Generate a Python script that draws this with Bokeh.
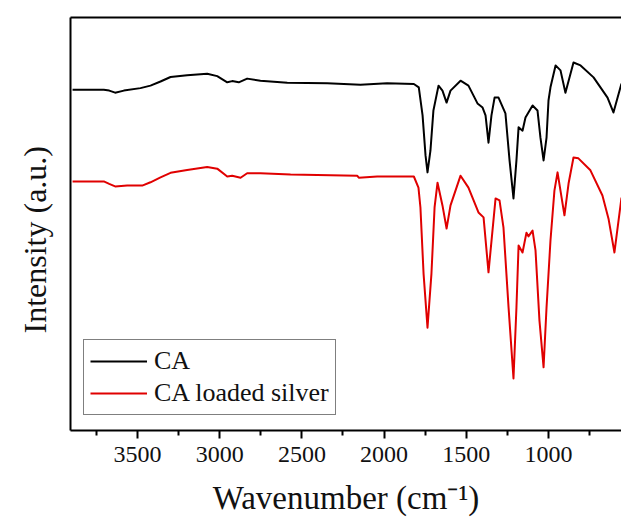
from bokeh.plotting import figure
from bokeh.models import Range1d, FixedTicker, Legend, LegendItem, LinearAxis, Title
from bokeh.embed import file_html
from bokeh.resources import INLINE

# ---- data ----
ca_wn = [3895, 3705, 3672, 3636, 3583, 3482, 3421, 3360, 3299, 3198, 3076, 3015, 2954, 2924,
         2884, 2833, 2752, 2589, 2346, 2144, 1982, 1819, 1789,
         1766, 1748, 1736, 1718, 1700, 1669, 1645, 1620, 1596, 1535, 1487, 1432, 1401, 1383,
         1365, 1347, 1328, 1304, 1262, 1237, 1213, 1195, 1182, 1158, 1140, 1097, 1067, 1049,
         1030, 1012, 1000, 988, 957, 927, 897, 848, 805, 726, 641, 605, 556]
ca_int = [82.5, 82.5, 82.3, 81.8, 82.3, 82.9, 83.5, 84.5, 85.6, 86.0, 86.4, 85.8, 84.3, 84.6,
          84.3, 85.2, 84.7, 84.2, 84.1, 83.7, 84.1, 83.9, 83.1,
          76.3, 66.6, 62.5, 67.8, 77.5, 83.5, 82.3, 79.4, 82.3, 84.7, 83.5, 79.2, 78.2, 76.3,
          69.7, 76.3, 80.6, 80.6, 76.8, 65.4, 56.2, 65.4, 73.4, 72.6, 75.8, 78.7, 77.5, 70.9,
          65.4, 70.9, 79.9, 83.1, 88.4, 87.2, 81.8, 89.1, 88.4, 85.5, 80.6, 77.0, 84.0]

ag_wn = [3895, 3705, 3672, 3636, 3563, 3471, 3421, 3360, 3299, 3198, 3076, 3015, 2954, 2924,
         2873, 2833, 2752, 2569, 2164, 2154, 2042, 1819,
         1791, 1779, 1760, 1736, 1712, 1693, 1675, 1645, 1620, 1596, 1535, 1487, 1426, 1395,
         1365, 1322, 1298, 1274, 1243, 1213, 1195, 1182, 1158, 1134, 1122, 1097, 1079, 1055,
         1030, 1012, 988, 964, 945, 903, 878, 848, 818, 745, 672, 635, 599, 556]
ag_int = [60.3, 60.3, 59.7, 59.1, 59.3, 59.3, 60.1, 61.3, 62.4, 63.1, 63.8, 63.4, 61.5, 61.7,
          61.2, 62.3, 62.3, 62.0, 61.7, 61.2, 61.5, 61.5,
          58.8, 54.0, 38.0, 24.9, 38.0, 54.0, 60.0, 54.5, 48.9, 54.5, 61.7, 58.8, 52.8, 51.6,
          38.3, 56.2, 55.7, 49.2, 29.8, 12.6, 29.8, 44.8, 43.1, 47.9, 47.0, 48.4, 43.6, 26.6,
          15.3, 29.8, 46.0, 58.1, 62.5, 52.1, 59.8, 66.1, 65.9, 63.0, 56.9, 51.3, 43.1, 56.4]

series_names = ["CA", "CA loaded silver"]
x_major = [3500, 3000, 2500, 2000, 1500, 1000]
x_minor = [3750, 3250, 2750, 2250, 1750, 1250, 750]
y_title = "Intensity (a.u.)"
x_title = "Wavenumber (cm\u207b\u00b9)"

FONT = "Liberation Serif"
TXT = "#111111"

p = figure(width=621, height=522, output_backend="svg", toolbar_location=None,
           x_range=Range1d(3907.5, 556), y_range=Range1d(0, 100),
           min_border_left=70, min_border_right=0, min_border_top=17, min_border_bottom=92)
p.background_fill_color = "white"
p.border_fill_color = "white"
p.outline_line_color = None
p.xgrid.visible = False
p.ygrid.visible = False

r1 = p.line(ca_wn, ca_int, line_color="black", line_width=2, line_join="round")
r2 = p.line(ag_wn, ag_int, line_color="#e00000", line_width=2, line_join="round")

xa = p.xaxis[0]
xa.ticker = FixedTicker(ticks=x_major, minor_ticks=x_minor)
xa.axis_line_width = 2
xa.major_tick_in = 0
xa.major_tick_out = 8
xa.major_tick_line_width = 2
xa.minor_tick_in = 0
xa.minor_tick_out = 5
xa.minor_tick_line_width = 2
xa.major_label_text_font = FONT
xa.major_label_text_font_size = "24px"
xa.major_label_text_color = TXT
xa.major_label_standoff = 8
xa.axis_label = x_title
xa.axis_label_text_font = FONT
xa.axis_label_text_font_size = "33px"
xa.axis_label_text_font_style = "normal"
xa.axis_label_text_color = TXT
xa.axis_label_standoff = 15

ya = p.yaxis[0]
ya.ticker = FixedTicker(ticks=[])
ya.axis_line_width = 2
ya.major_tick_line_color = None
ya.minor_tick_line_color = None
ya.major_label_text_font_size = "0px"

top = LinearAxis(ticker=FixedTicker(ticks=[]), axis_line_width=2,
                 major_tick_line_color=None, minor_tick_line_color=None,
                 major_label_text_font_size="0px")
p.add_layout(top, "above")

# y-axis title as a side title, positioned along the axis
p.add_layout(Title(text=y_title, align="left", offset=97, vertical_align="top",
                   text_font=FONT, text_font_size="32px", text_font_style="normal",
                   text_color=TXT, standoff=31), "left")

legend = Legend(items=[LegendItem(label=series_names[0], renderers=[r1]),
                       LegendItem(label=series_names[1], renderers=[r2])],
                location=(13, 15), margin=0, padding=6, spacing=2,
                glyph_width=57, glyph_height=28, label_height=28, label_standoff=7,
                label_text_font=FONT, label_text_font_size="26px",
                label_text_color=TXT,
                border_line_color="black", border_line_width=1,
                background_fill_color="white", background_fill_alpha=1.0)
p.add_layout(legend, "center")

open("out.html", "w").write(file_html(p, INLINE))
